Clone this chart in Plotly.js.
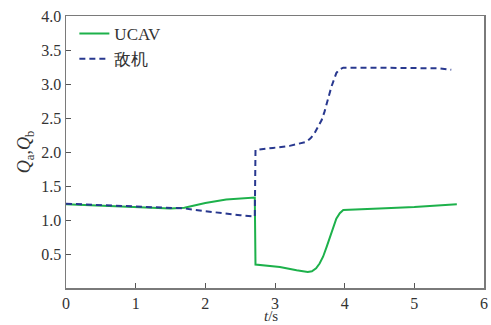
<!DOCTYPE html>
<html>
<head>
<meta charset="utf-8">
<script src="https://cdn.plot.ly/plotly-3.0.1.min.js"></script>
<style>html,body{margin:0;padding:0;background:#fff;}#chart{width:491px;height:325px;}</style>
</head>
<body>
<div id="chart"></div>
<script>
const seriesNames = ["UCAV", "敌机"];
const ucavT = [0, 0.5, 1.0, 1.5, 1.7, 2.0, 2.3, 2.5, 2.71, 2.72, 3.07, 3.31, 3.47, 3.53, 3.59, 3.64, 3.69, 3.74, 3.79, 3.84, 3.88, 3.93, 3.98, 4.5, 5.0, 5.61];
const ucavQ = [1.23, 1.21, 1.19, 1.17, 1.18, 1.25, 1.30, 1.32, 1.33, 0.345, 0.31, 0.26, 0.236, 0.245, 0.29, 0.36, 0.46, 0.60, 0.75, 0.90, 1.02, 1.10, 1.146, 1.17, 1.19, 1.23];
const enemyT = [0, 0.5, 1.0, 1.4, 1.7, 2.0, 2.3, 2.5, 2.71, 2.72, 2.97, 3.21, 3.45, 3.51, 3.57, 3.62, 3.67, 3.71, 3.74, 3.78, 3.81, 3.85, 3.88, 3.92, 3.98, 4.4, 5.1, 5.37, 5.53];
const enemyQ = [1.24, 1.22, 1.205, 1.18, 1.17, 1.13, 1.09, 1.07, 1.05, 2.03, 2.06, 2.09, 2.15, 2.20, 2.28, 2.37, 2.47, 2.59, 2.72, 2.85, 2.96, 3.07, 3.16, 3.21, 3.24, 3.24, 3.24, 3.23, 3.21];
const xTicks = [0, 1, 2, 3, 4, 5, 6];
const yTicks = [0.5, 1.0, 1.5, 2.0, 2.5, 3.0, 3.5, 4.0];
const yTickText = ["0.5", "1.0", "1.5", "2.0", "2.5", "3.0", "3.5", "4.0"];
const xTitle = "<i>t</i>/s";
const yTitle = "<i>Q</i><sub>a</sub>,<i>Q</i><sub>b</sub>";

const serif = "Times New Roman";
const traces = [
  {x: ucavT, y: ucavQ, name: seriesNames[0], mode: "lines", line: {color: "#1db14b", width: 2}},
  {x: enemyT, y: enemyQ, name: seriesNames[1], mode: "lines", line: {color: "#28388f", width: 2, dash: "6px,4px"}}
];
function axisCommon() {
  return {
    showgrid: false, zeroline: false, showline: true, linecolor: "#7a7a7a", linewidth: 1.5,
    mirror: true, ticks: "inside", ticklen: 5, tickcolor: "#555", tickwidth: 1,
    tickfont: {family: serif, size: 16, color: "#333"}
  };
}
const layout = {
  width: 491, height: 325,
  margin: {l: 66, r: 7, t: 16, b: 37},
  font: {family: serif, size: 17, color: "#333"},
  paper_bgcolor: "#fff", plot_bgcolor: "#fff",
  showlegend: true,
  legend: {x: 0.02, y: 1.0, xanchor: "left", yanchor: "top", bgcolor: "rgba(0,0,0,0)",
           font: {family: serif, size: 17, color: "#333"}, tracegroupgap: 0, itemwidth: 30},
  xaxis: Object.assign(axisCommon(), {range: [0, 6], tickvals: xTicks, ticktext: xTicks.map(String), ticklabelstandoff: 0}),
  yaxis: Object.assign(axisCommon(), {range: [0, 4], tickvals: yTicks, ticktext: yTickText,
    title: {text: yTitle, font: {family: serif, size: 18, color: "#333"}, standoff: 6}}),
  annotations: [{text: xTitle, xref: "paper", yref: "paper", x: 0.49, y: -0.136, xanchor: "center", yanchor: "bottom",
    showarrow: false, font: {family: serif, size: 15, color: "#333"}, borderpad: 0}]
};
Plotly.newPlot("chart", traces, layout, {displayModeBar: false, staticPlot: true});
</script>
</body>
</html>
